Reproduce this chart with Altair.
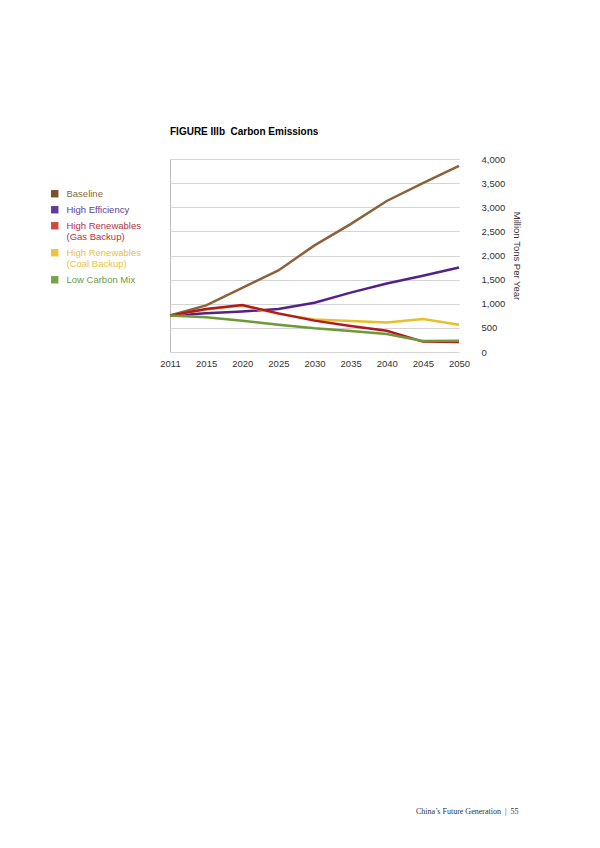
import pandas as pd
import altair as alt

years = [2011, 2015, 2020, 2025, 2030, 2035, 2040, 2045, 2050]

baseline = [755, 965, 1330, 1690, 2210, 2650, 3130, 3500, 3860]
high_eff = [755, 805, 840, 890, 1020, 1230, 1420, 1580, 1750]
gas_backup = [755, 890, 975, 800, 650, 540, 440, 215, 205]
coal_backup = [755, 880, 965, 790, 675, 645, 610, 685, 565]
low_carbon = [755, 720, 650, 565, 490, 435, 375, 230, 235]

series = ["Baseline", "High Efficiency", "High Renewables (Gas Backup)",
          "High Renewables (Coal Backup)", "Low Carbon Mix"]
line_colors = ["#8b6239", "#54218a", "#b3171f", "#e5c02a", "#6b9b37"]
swatch_colors = ["#7b5127", "#5c3e99", "#cf4a3c", "#f0c040", "#79a34a"]
text_colors = ["#8a6840", "#5b3d99", "#b5313b", "#e8c23a", "#6b9b46"]

# draw order: yellow under red
draw = [("Baseline", baseline), ("High Efficiency", high_eff),
        ("High Renewables (Coal Backup)", coal_backup),
        ("High Renewables (Gas Backup)", gas_backup),
        ("Low Carbon Mix", low_carbon)]
rows = []
for name, vals in draw:
    for y, v in zip(years, vals):
        rows.append({"year": y, "value": v, "scenario": name})
df = pd.DataFrame(rows)


def pick(colors):
    return " : ".join(
        f"datum.value == '{s}' ? '{c}'" for s, c in zip(series, colors)
    ) + " : '#333'"


label_expr = ("indexof(datum.label, ' (') > 0 ? "
              "[substring(datum.label, 0, indexof(datum.label, ' (')), "
              "substring(datum.label, indexof(datum.label, ' (') + 1)] : datum.label")

footer = "China\u2019s Future Generation\u00a0\u00a0|\u00a0\u00a055"

chart = alt.Chart(df).mark_line(strokeWidth=2.5).encode(
    x=alt.X("year:O", title=footer,
            scale=alt.Scale(padding=0),
            axis=alt.Axis(labelAngle=0, ticks=False, domain=False,
                          labelFontSize=9.5, labelColor="#333", labelPadding=6,
                          grid=True, gridColor="#bbbbbb",
                          gridOpacity=alt.condition("datum.value == 2011", alt.value(1), alt.value(0)),
                          titleFont="Liberation Serif", titleFontSize=8,
                          titleFontWeight="normal", titleColor="#333",
                          titleAnchor="end", titleAlign="right",
                          titleX=348, titleY=455)),
    y=alt.Y("value:Q", title="Million Tons Per Year",
            scale=alt.Scale(domain=[0, 4000]),
            axis=alt.Axis(orient="right", values=list(range(0, 4001, 500)),
                          format=",.0f", ticks=False, domain=False,
                          labelAlign="left", labelPadding=22,
                          labelFontSize=9.5, labelColor="#333",
                          gridColor="#d4d4d4",
                          titleFontSize=9.5, titleFontWeight="normal",
                          titleColor="#333", titleAngle=90, titlePadding=7)),
    color=alt.Color("scenario:N",
                    scale=alt.Scale(domain=series, range=line_colors),
                    legend=alt.Legend(title=None, orient="none",
                                      legendX=-120, legendY=30,
                                      symbolType="square", symbolSize=55,
                                      symbolStrokeWidth=0, symbolOpacity=1,
                                      symbolFillColor=alt.ExprRef(pick(swatch_colors)),
                                      labelFontSize=9.5,
                                      labelColor=alt.ExprRef(pick(text_colors)),
                                      labelExpr=label_expr,
                                      labelOffset=7, rowPadding=5,
                                      labelLimit=200)),
).properties(
    width=289,
    height=193,
    title=alt.TitleParams("FIGURE IIIb\u00a0\u00a0Carbon Emissions", anchor="start",
                          frame="group", fontSize=10, fontWeight="bold",
                          color="#000", offset=17),
    autosize=alt.AutoSizeParams(type="none"),
    padding={"left": 162, "top": 151, "right": 100, "bottom": 475},
).configure(
    font="Liberation Sans",
).configure_view(stroke=None)

chart.save("out.html", embed_options={"renderer": "svg", "actions": False})
